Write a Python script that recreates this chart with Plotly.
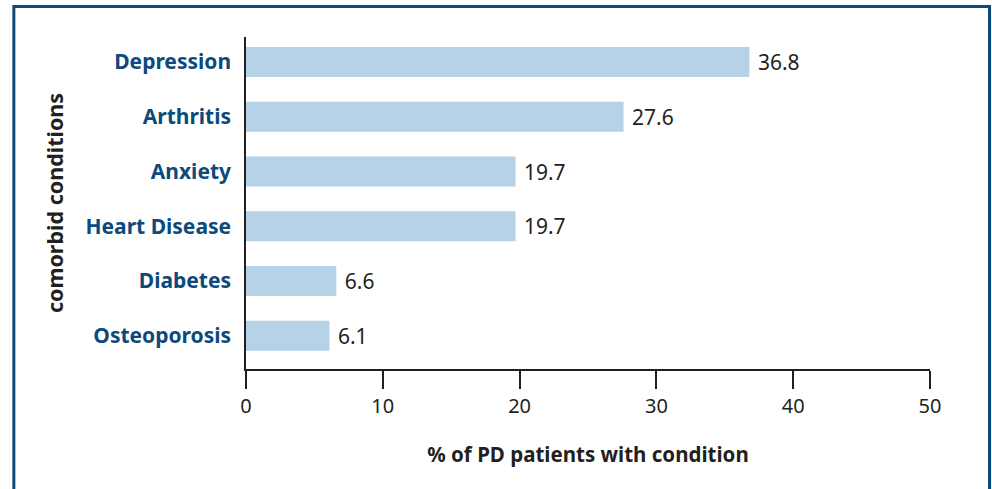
import plotly.graph_objects as go

# comorbid conditions, listed bottom to top
conditions = ["Osteoporosis", "Diabetes", "Heart Disease", "Anxiety", "Arthritis", "Depression"]
percent = [6.1, 6.6, 19.7, 19.7, 27.6, 36.8]
x_ticks = [0, 10, 20, 30, 40, 50]

BAR_COLOR = "#b5d2e7"
LABEL_BLUE = "#0d4a7c"
INK = "#231f20"
FONT = "Noto Sans"

fig = go.Figure(
    go.Bar(
        x=percent,
        y=conditions,
        orientation="h",
        width=0.55,
        marker=dict(color=BAR_COLOR, line=dict(width=0)),
        text=[f" {v:.1f}" for v in percent],
        textposition="outside",
        textfont=dict(family=FONT, size=21, color=INK),
        cliponaxis=False,
        hoverinfo="skip",
    )
)

fig.update_xaxes(
    range=[0, 50],
    tickvals=x_ticks,
    ticks="outside",
    ticklen=18,
    tickwidth=1.5,
    tickcolor=INK,
    showline=True,
    linecolor=INK,
    linewidth=1.5,
    showgrid=False,
    zeroline=False,
    tickfont=dict(family=FONT, size=20, color=INK),
    title=dict(
        text="<b>% of PD patients with condition</b>",
        font=dict(family=FONT, size=20.5, color=INK),
        standoff=30,
    ),
)

fig.update_yaxes(
    range=[-0.606, 5.456],
    showline=True,
    linecolor=INK,
    linewidth=1.5,
    showgrid=False,
    ticks="",
    ticklabelstandoff=9,
    tickfont=dict(family=FONT, size=21, color=LABEL_BLUE, weight="bold"),
    title=dict(
        text="<b>comorbid conditions</b>",
        font=dict(family=FONT, size=21.5, color=INK),
        standoff=16,
    ),
)

# framing border around the figure (open at the bottom)
fig.add_shape(
    type="rect",
    xref="paper", yref="paper",
    x0=-0.3394, x1=1.087, y0=-0.5, y1=1.0919,
    line=dict(color="#0d4a7c", width=3),
    fillcolor="rgba(0,0,0,0)",
    layer="below",
)

fig.update_layout(
    width=992,
    height=489,
    margin=dict(l=246, r=62, t=37, b=120),
    paper_bgcolor="white",
    plot_bgcolor="white",
    showlegend=False,
    bargap=0.45,
)

# drop the default page margin so the figure sits at the window's corner
fig.write_html(
    "out.html",
    config={"displayModeBar": False},
    post_script="document.body.style.margin='0';",
)
